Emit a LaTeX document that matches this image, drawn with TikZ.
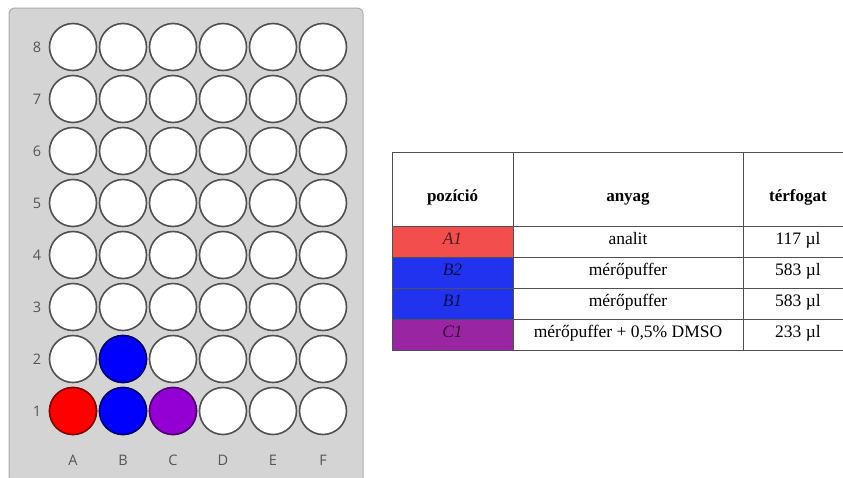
\documentclass[tikz,border=0pt]{standalone}
\usepackage{fontspec}
\setmainfont{Liberation Serif}
\newfontfamily\platefont{Open Sans}
\definecolor{platefill}{HTML}{D4D4D4}
\definecolor{plateedge}{HTML}{ACACAC}
\definecolor{welledge}{HTML}{505050}
\definecolor{labelgray}{HTML}{555555}
\definecolor{wellred}{HTML}{FF0000}
\definecolor{wellblue}{HTML}{0000FF}
\definecolor{wellviolet}{HTML}{9400D3}
\definecolor{cellred}{HTML}{F24E4E}
\definecolor{cellblue}{HTML}{2233F0}
\definecolor{cellviolet}{HTML}{9A25A2}
\definecolor{gridline}{HTML}{505050}
\begin{document}
\begin{tikzpicture}[x=1pt,y=-1pt,
  well/.style={circle,draw=welledge,line width=1.6pt,fill=white,minimum size=47pt,inner sep=0pt},
  plabel/.style={font=\platefont\fontsize{14.5}{14.5}\selectfont,text=labelgray,inner sep=0pt},
  grid/.style={draw=gridline,line width=0.9pt},
  head/.style={font=\fontsize{17}{17}\selectfont\bfseries,inner sep=0pt,anchor=base},
  body/.style={font=\fontsize{17.5}{17.5}\selectfont,inner sep=0pt,anchor=base},
  poscell/.style={font=\fontsize{17.5}{17.5}\selectfont\itshape,inner sep=0pt,anchor=base}]
\useasboundingbox (0,0) rectangle (843,477);
\clip (0,0) rectangle (843,477);
\fill[white] (0,0) rectangle (843,477);
% plate
\draw[fill=platefill,draw=plateedge,line width=1pt,rounded corners=6pt]
  (9,490) -- (9,8) -- (363,8) -- (363,490);
% wells
\foreach \c [count=\i from 0] in {A,B,C,D,E,F}{
  \foreach \r in {1,...,8}{
    \node[well] (w\c\r) at ({73+50*\i},{411-52*(\r-1)}) {};
  }
  \node[plabel] (col\c) at ({73+50*\i},460) {\c};
}
\foreach \r in {1,...,8}{
  \node[plabel] (row\r) at (37,{411-52*(\r-1)}) {\r};
}
\node[well,fill=wellred,draw=wellred!55!black] at (wA1) {};
\node[well,fill=wellblue,draw=wellblue!45!black] at (wB1) {};
\node[well,fill=wellblue,draw=wellblue!45!black] at (wB2) {};
\node[well,fill=wellviolet,draw=wellviolet!55!black] at (wC1) {};
% table fills
\fill[cellred] (392,226) rectangle (513,257);
\fill[cellblue] (392,257) rectangle (513,288);
\fill[cellblue] (392,288) rectangle (513,319);
\fill[cellviolet] (392,319) rectangle (513,350);
% table grid
\draw[grid] (392,152) rectangle (860,350);
\foreach \y in {226,257,288,319}{ \draw[grid] (392,\y) -- (860,\y); }
\draw[grid] (513,152) -- (513,350);
\draw[grid] (743,152) -- (743,350);
% header
\node[head] (hpos) at (452.5,201.5) {pozíció};
\node[head] (hany) at (628,201.5) {anyag};
\node[head] (hter) at (798,201.5) {térfogat};
% rows
\node[poscell,text=cellred!35!black] (pA1) at (452.5,244) {A1};
\node[body] (aA1) at (628,244) {analit};
\node[body] (vA1) at (798,244) {117 µl};
\node[poscell,text=cellblue!30!black] (pB2) at (452.5,275) {B2};
\node[body] (aB2) at (628,275) {mérőpuffer};
\node[body] (vB2) at (798,275) {583 µl};
\node[poscell,text=cellblue!30!black] (pB1) at (452.5,306) {B1};
\node[body] (aB1) at (628,306) {mérőpuffer};
\node[body] (vB1) at (798,306) {583 µl};
\node[poscell,text=cellviolet!30!black] (pC1) at (452.5,337) {C1};
\node[body] (aC1) at (628,337) {mérőpuffer + 0,5\% DMSO};
\node[body] (vC1) at (798,337) {233 µl};
\end{tikzpicture}
\end{document}
